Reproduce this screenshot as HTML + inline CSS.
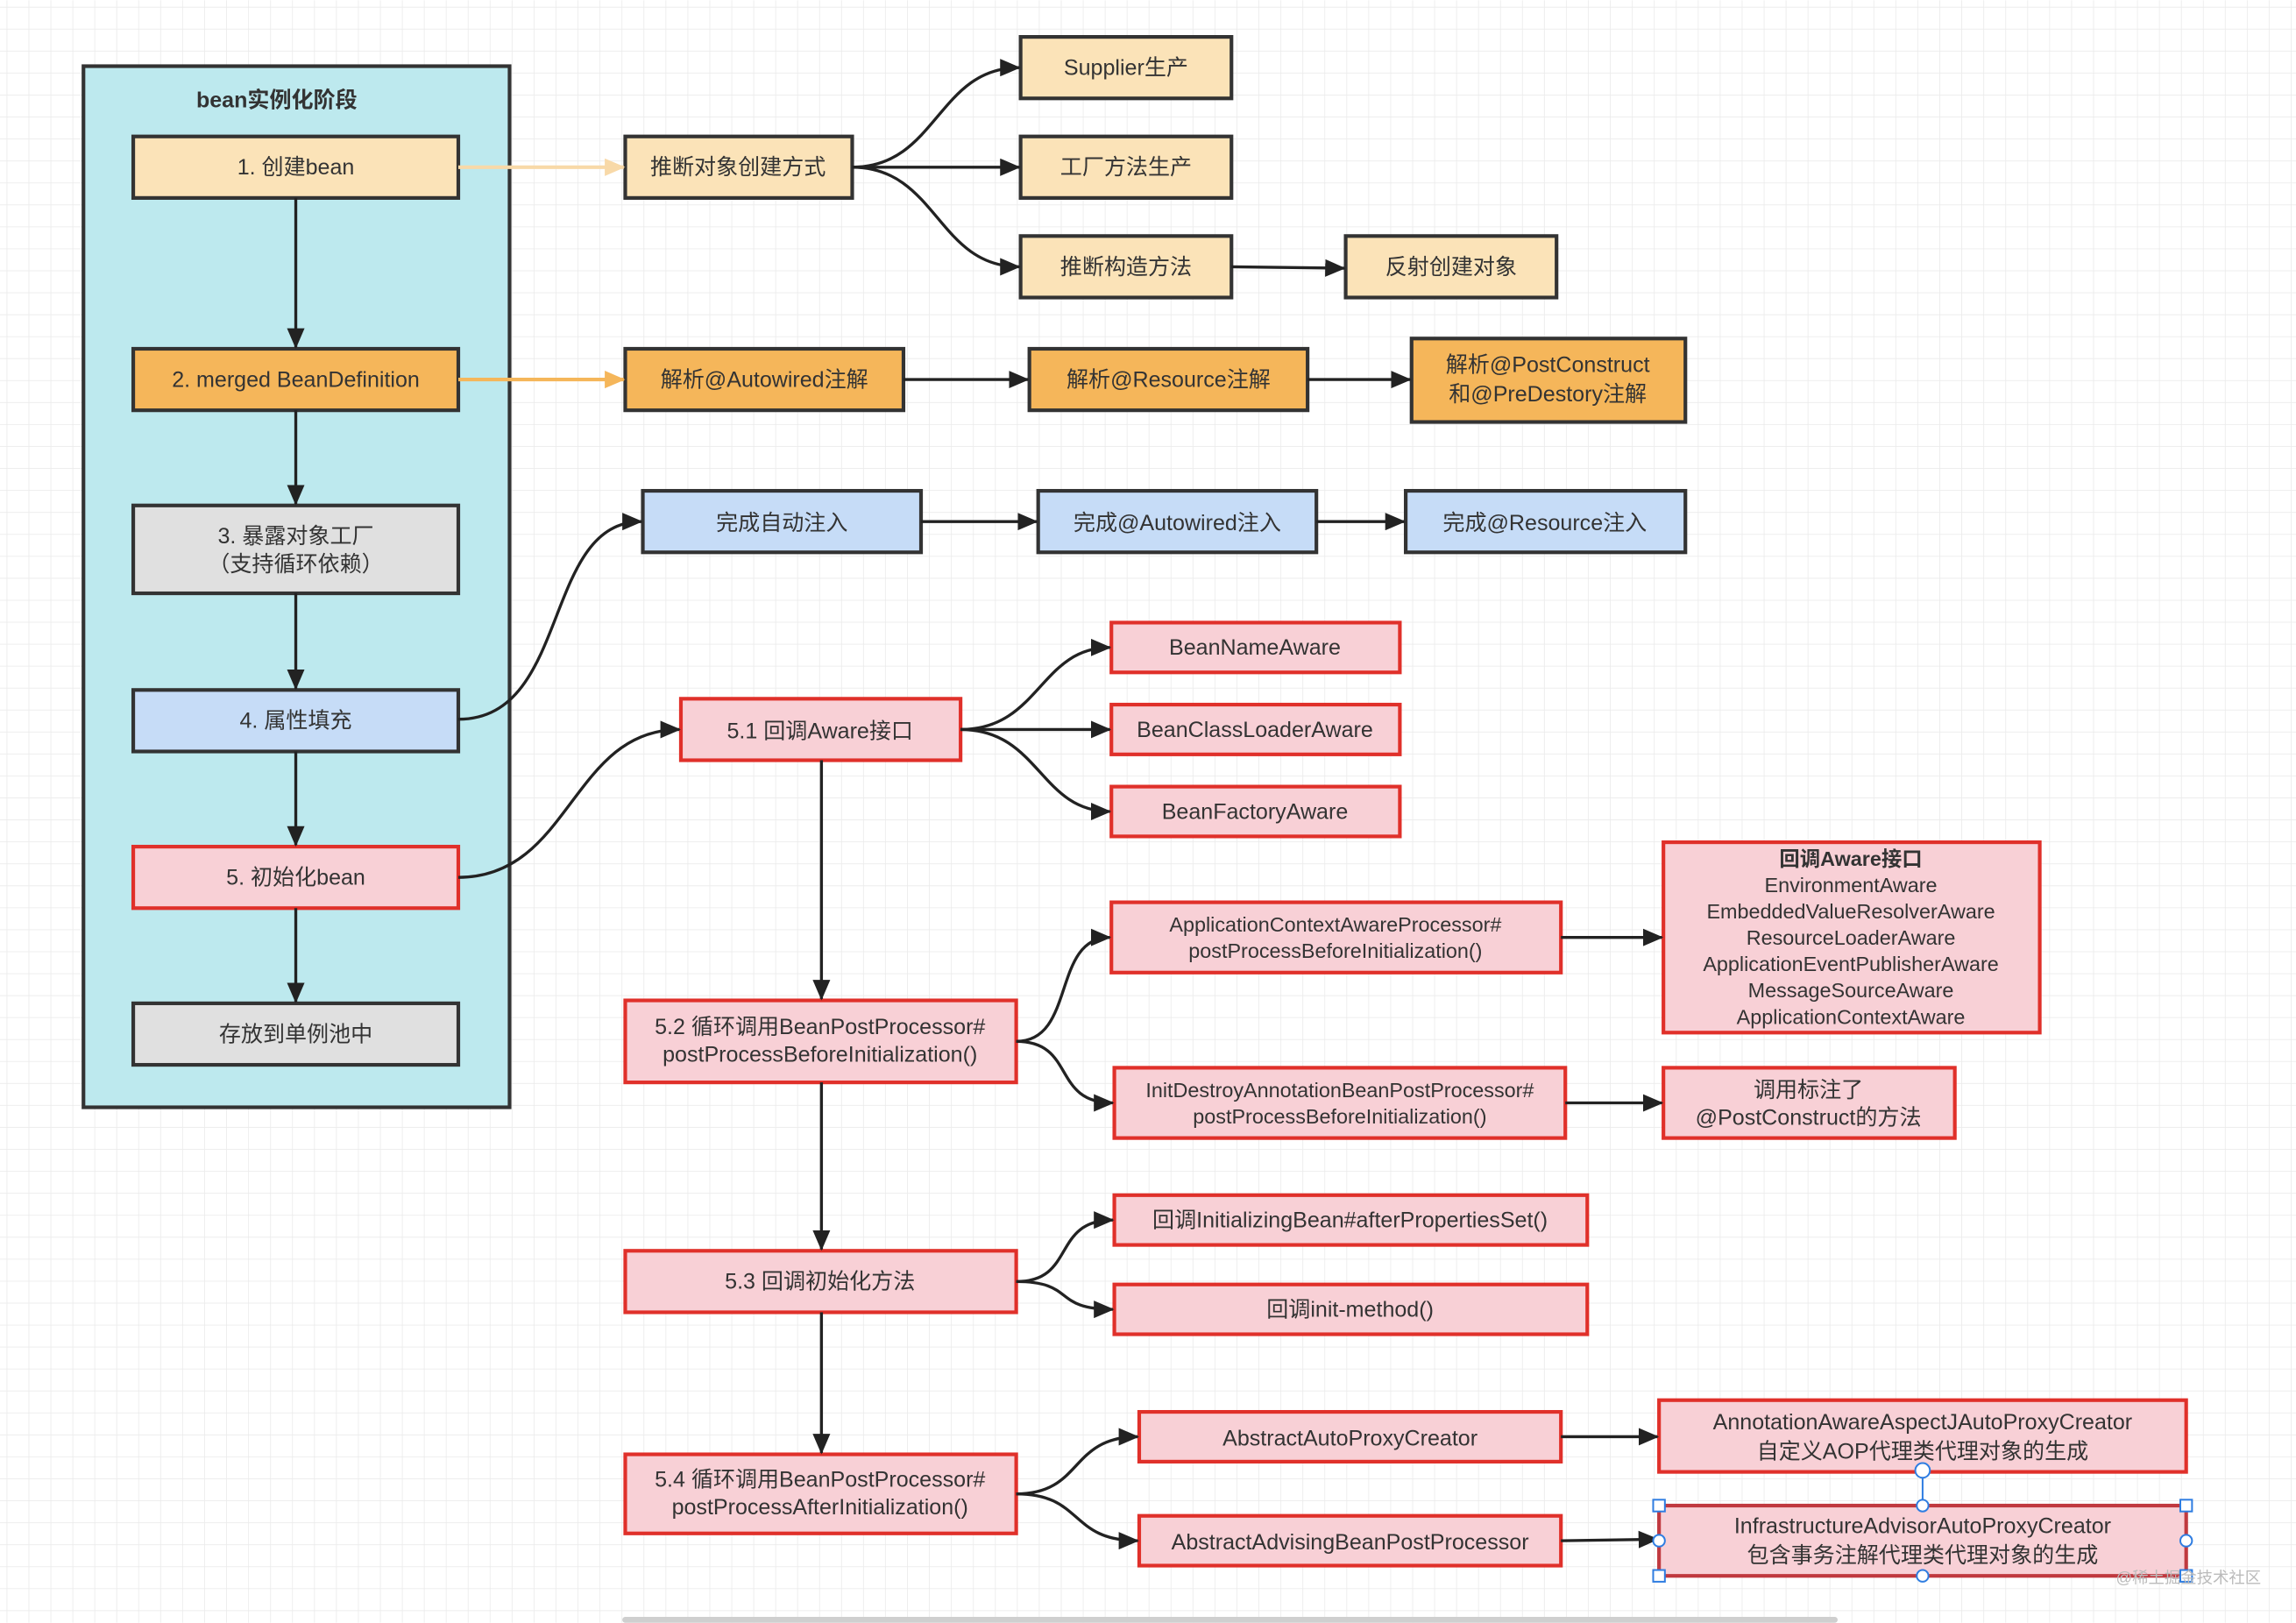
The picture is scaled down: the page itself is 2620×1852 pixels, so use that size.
<!DOCTYPE html>
<html><head><meta charset="utf-8"><style>
html,body{margin:0;padding:0;background:#fff;}
svg{display:block;}
text{font-family:"Liberation Sans","Noto Sans CJK SC",sans-serif;fill:#333;font-size:15px;}
</style></head><body>
<svg width="2620" height="1852" viewBox="0 0 1568 1108" xmlns="http://www.w3.org/2000/svg">
<defs>
<pattern id="g" width="15" height="15" patternUnits="userSpaceOnUse" x="5" y="5">
<path d="M15 0V15H0" fill="none" stroke="#ebebeb" stroke-width="1"/>
</pattern>
<marker id="a" markerWidth="14" markerHeight="12" refX="13" refY="6" orient="auto" markerUnits="userSpaceOnUse">
<path d="M0 0L14 6L0 12z" fill="#222"/></marker>
<marker id="o1" markerWidth="14" markerHeight="12" refX="13" refY="6" orient="auto" markerUnits="userSpaceOnUse">
<path d="M0 0L14 6L0 12z" fill="#f8d9a8"/></marker>
<marker id="o2" markerWidth="14" markerHeight="12" refX="13" refY="6" orient="auto" markerUnits="userSpaceOnUse">
<path d="M0 0L14 6L0 12z" fill="#f5b65a"/></marker>
</defs>
<rect width="1568" height="1108" fill="#fff"/>
<rect width="1568" height="1108" fill="url(#g)"/>

<!-- container -->
<rect x="57" y="45" width="291" height="711" fill="#bde9ee" stroke="#333" stroke-width="2.5"/>
<text x="189" y="73" text-anchor="middle" font-weight="bold">bean实例化阶段</text>

<g stroke="#333" stroke-width="2.5">
<rect x="91" y="93" width="222" height="42" fill="#fbe3b8"/>
<rect x="91" y="238" width="222" height="42" fill="#f5b65a"/>
<rect x="91" y="345" width="222" height="60" fill="#e0e0e0"/>
<rect x="91" y="471" width="222" height="42" fill="#c6dcf7"/>
<rect x="91" y="685" width="222" height="42" fill="#e0e0e0"/>
<rect x="427" y="93" width="155" height="42" fill="#fbe3b8"/>
<rect x="697" y="25" width="144" height="42" fill="#fbe3b8"/>
<rect x="697" y="93" width="144" height="42" fill="#fbe3b8"/>
<rect x="697" y="161" width="144" height="42" fill="#fbe3b8"/>
<rect x="919" y="161" width="144" height="42" fill="#fbe3b8"/>
<rect x="427" y="238" width="190" height="42" fill="#f5b65a"/>
<rect x="703" y="238" width="190" height="42" fill="#f5b65a"/>
<rect x="964" y="231" width="187" height="57" fill="#f5b65a"/>
<rect x="439" y="335" width="190" height="42" fill="#c6dcf7"/>
<rect x="709" y="335" width="190" height="42" fill="#c6dcf7"/>
<rect x="960" y="335" width="191" height="42" fill="#c6dcf7"/>
</g>
<g stroke="#e0302a" stroke-width="2.5" fill="#f8d0d6">
<rect x="91" y="578" width="222" height="42"/>
<rect x="465" y="477" width="191" height="42"/>
<rect x="759" y="425" width="197" height="34"/>
<rect x="759" y="481" width="197" height="34"/>
<rect x="759" y="537" width="197" height="34"/>
<rect x="759" y="616" width="307" height="48"/>
<rect x="1136" y="575" width="257" height="130"/>
<rect x="427" y="683" width="267" height="56"/>
<rect x="761" y="729" width="308" height="48"/>
<rect x="1136" y="729" width="199" height="48"/>
<rect x="761" y="816" width="323" height="34"/>
<rect x="761" y="877" width="323" height="34"/>
<rect x="427" y="854" width="267" height="42"/>
<rect x="427" y="993" width="267" height="54"/>
<rect x="778" y="964" width="288" height="34"/>
<rect x="778" y="1035" width="288" height="34"/>
<rect x="1133" y="956" width="360" height="49"/>
<rect x="1133" y="1028" width="360" height="48" stroke="#c0393f"/>
</g>

<!-- connectors -->
<g fill="none" stroke="#222" stroke-width="2">
<path d="M202 135V237" marker-end="url(#a)"/>
<path d="M202 280V344" marker-end="url(#a)"/>
<path d="M202 405V470" marker-end="url(#a)"/>
<path d="M202 513V577" marker-end="url(#a)"/>
<path d="M202 620V684" marker-end="url(#a)"/>
<path d="M582 114C640 114 640 46 696 46" marker-end="url(#a)"/>
<path d="M582 114H696" marker-end="url(#a)"/>
<path d="M582 114C640 114 640 182 696 182" marker-end="url(#a)"/>
<path d="M841 182L918 183" marker-end="url(#a)"/>
<path d="M617 259H702" marker-end="url(#a)"/>
<path d="M893 259H963" marker-end="url(#a)"/>
<path d="M629 356H708" marker-end="url(#a)"/>
<path d="M899 356H959" marker-end="url(#a)"/>
<path d="M313 491C390 491 370 356 438 356" marker-end="url(#a)"/>
<path d="M313 599C390 599 390 498 464 498" marker-end="url(#a)"/>
<path d="M656 498C710 498 710 442 758 442" marker-end="url(#a)"/>
<path d="M656 498H758" marker-end="url(#a)"/>
<path d="M656 498C710 498 710 554 758 554" marker-end="url(#a)"/>
<path d="M561 519V682" marker-end="url(#a)"/>
<path d="M561 739V853" marker-end="url(#a)"/>
<path d="M561 896V992" marker-end="url(#a)"/>
<path d="M694 711C735 711 718 640 758 640" marker-end="url(#a)"/>
<path d="M694 711C735 711 718 753 760 753" marker-end="url(#a)"/>
<path d="M1066 640H1135" marker-end="url(#a)"/>
<path d="M1069 753H1135" marker-end="url(#a)"/>
<path d="M694 875C735 875 718 833 760 833" marker-end="url(#a)"/>
<path d="M694 875C735 875 718 894 760 894" marker-end="url(#a)"/>
<path d="M694 1020C740 1020 730 981 777 981" marker-end="url(#a)"/>
<path d="M694 1020C740 1020 730 1052 777 1052" marker-end="url(#a)"/>
<path d="M1066 981H1132" marker-end="url(#a)"/>
<path d="M1066 1052L1132 1051" marker-end="url(#a)"/>
</g>
<path d="M313 114H426" stroke="#f8d9a8" stroke-width="2.5" marker-end="url(#o1)"/>
<path d="M313 259H426" stroke="#f5b65a" stroke-width="2.5" marker-end="url(#o2)"/>

<!-- selection handles -->
<g fill="#fff" stroke="#2f7de1" stroke-width="1.2">
<path d="M1313 1005V1028" fill="none"/>
<circle cx="1313" cy="1004" r="5"/>
<circle cx="1313" cy="1028" r="4"/>
<circle cx="1313" cy="1076" r="4"/>
<circle cx="1133" cy="1052" r="4"/>
<circle cx="1493" cy="1052" r="4"/>
<rect x="1129" y="1024" width="8" height="8"/>
<rect x="1489" y="1024" width="8" height="8"/>
<rect x="1129" y="1072" width="8" height="8"/>
<rect x="1489" y="1072" width="8" height="8"/>
</g>

<!-- labels -->
<g text-anchor="middle">
<text x="202" y="119">1. 创建bean</text>
<text x="202" y="264">2. merged BeanDefinition</text>
<text x="202" y="371">3. 暴露对象工厂</text>
<text x="202" y="390">（支持循环依赖）</text>
<text x="202" y="497">4. 属性填充</text>
<text x="202" y="604">5. 初始化bean</text>
<text x="202" y="711">存放到单例池中</text>
<text x="504" y="119">推断对象创建方式</text>
<text x="769" y="51">Supplier生产</text>
<text x="769" y="119">工厂方法生产</text>
<text x="769" y="187">推断构造方法</text>
<text x="991" y="187">反射创建对象</text>
<text x="522" y="264">解析@Autowired注解</text>
<text x="798" y="264">解析@Resource注解</text>
<text x="1057" y="254">解析@PostConstruct</text>
<text x="1057" y="274">和@PreDestory注解</text>
<text x="534" y="362">完成自动注入</text>
<text x="804" y="362">完成@Autowired注入</text>
<text x="1055" y="362">完成@Resource注入</text>
<text x="560" y="504">5.1 回调Aware接口</text>
<text x="857" y="447">BeanNameAware</text>
<text x="857" y="503">BeanClassLoaderAware</text>
<text x="857" y="559">BeanFactoryAware</text>
<g font-size="14"><text x="912" y="636" style="font-size:14px">ApplicationContextAwareProcessor#</text>
<text x="912" y="654" style="font-size:14px">postProcessBeforeInitialization()</text>
<text x="1264" y="591" style="font-size:14px;font-weight:bold">回调Aware接口</text>
<text x="1264" y="609" style="font-size:14px">EnvironmentAware</text>
<text x="1264" y="627" style="font-size:14px">EmbeddedValueResolverAware</text>
<text x="1264" y="645" style="font-size:14px">ResourceLoaderAware</text>
<text x="1264" y="663" style="font-size:14px">ApplicationEventPublisherAware</text>
<text x="1264" y="681" style="font-size:14px">MessageSourceAware</text>
<text x="1264" y="699" style="font-size:14px">ApplicationContextAware</text>
<text x="915" y="749" style="font-size:14px">InitDestroyAnnotationBeanPostProcessor#</text>
<text x="915" y="767" style="font-size:14px">postProcessBeforeInitialization()</text></g>
<text x="560" y="706">5.2 循环调用BeanPostProcessor#</text>
<text x="560" y="725">postProcessBeforeInitialization()</text>
<text x="1235" y="749">调用标注了</text>
<text x="1235" y="768">@PostConstruct的方法</text>
<text x="922" y="838">回调InitializingBean#afterPropertiesSet()</text>
<text x="922" y="899">回调init-method()</text>
<text x="560" y="880">5.3 回调初始化方法</text>
<text x="560" y="1015">5.4 循环调用BeanPostProcessor#</text>
<text x="560" y="1034">postProcessAfterInitialization()</text>
<text x="922" y="987">AbstractAutoProxyCreator</text>
<text x="922" y="1058">AbstractAdvisingBeanPostProcessor</text>
<text x="1313" y="976">AnnotationAwareAspectJAutoProxyCreator</text>
<text x="1313" y="996">自定义AOP代理类代理对象的生成</text>
<text x="1313" y="1047">InfrastructureAdvisorAutoProxyCreator</text>
<text x="1313" y="1067">包含事务注解代理类代理对象的生成</text>
</g>
<text x="1445" y="1081" style="font-size:11px;fill:#bbb">@稀土掘金技术社区</text>
<rect x="425" y="1104" width="830" height="4" rx="2" fill="#cfcfcf"/>
</svg>
</body></html>
